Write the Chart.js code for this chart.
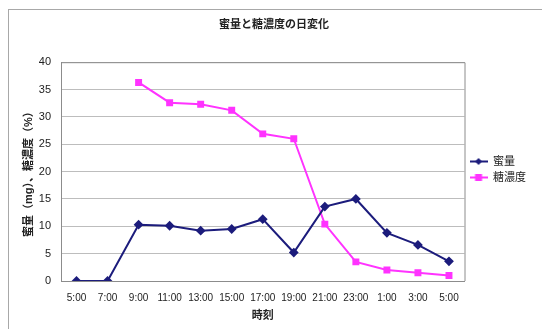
<!DOCTYPE html>
<html lang="ja">
<head>
    <meta charset="UTF-8">
    <title>蜜量と糖濃度の日変化</title>
    <script src="https://cdn.jsdelivr.net/npm/chart.js@4.4.1/dist/chart.umd.min.js"></script>
    <style>
        body {
            margin: 0;
            background: #ffffff;
        }
        .frame {
            position: absolute;
            left: 8px;
            top: 9px;
            width: 560px;
            height: 340px;
            border: 1px solid #a8a8a8;
        }
        .wrap {
            position: absolute;
            left: 0;
            top: 0;
            width: 542px;
            height: 329px;
        }
    </style>
</head>
<body>
    <div class="frame"></div>
    <div class="wrap"><canvas id="chart" width="542" height="329"></canvas></div>

    <script>
        const times = ['5:00', '7:00', '9:00', '11:00', '13:00', '15:00', '17:00', '19:00', '21:00', '23:00', '1:00', '3:00', '5:00'];
        const nectar = [0, 0, 10.3, 10.1, 9.2, 9.5, 11.3, 5.2, 13.6, 15.0, 8.8, 6.6, 3.6];
        const sugar = [null, null, 36.3, 32.6, 32.3, 31.2, 26.9, 26.0, 10.4, 3.5, 2.0, 1.5, 1.0];
        const yTicks = [0, 5, 10, 15, 20, 25, 30, 35, 40];

        const FONT = '"Liberation Sans", "Noto Sans CJK JP", sans-serif';
        const BLUE = '#1c1c7c';
        const PINK = '#ff33ff';

        // small line + marker picture for the legend
        function legendIcon(color, shape) {
            const c = document.createElement('canvas');
            c.width = 18;
            c.height = 9;
            const g = c.getContext('2d');
            g.strokeStyle = color;
            g.lineWidth = 2;
            g.beginPath();
            g.moveTo(0, 4.5);
            g.lineTo(18, 4.5);
            g.stroke();
            g.fillStyle = color;
            if (shape === 'diamond') {
                g.beginPath();
                g.moveTo(9, 1);
                g.lineTo(12.5, 4.5);
                g.lineTo(9, 8);
                g.lineTo(5.5, 4.5);
                g.closePath();
                g.fill();
            } else {
                g.fillRect(5.5, 1, 7, 7);
            }
            return c;
        }

        const icons = [legendIcon(BLUE, 'diamond'), legendIcon(PINK, 'square')];

        new Chart(document.getElementById('chart'), {
            type: 'line',
            data: {
                labels: times,
                datasets: [{
                    label: '蜜量',
                    data: nectar,
                    borderColor: BLUE,
                    backgroundColor: BLUE,
                    borderWidth: 2,
                    pointStyle: 'rectRot',
                    pointRadius: 3.5,
                    tension: 0
                }, {
                    label: '糖濃度',
                    data: sugar,
                    borderColor: PINK,
                    backgroundColor: PINK,
                    borderWidth: 2,
                    pointStyle: 'rect',
                    pointRadius: 3.5,
                    tension: 0
                }]
            },
            options: {
                responsive: false,
                animation: false,
                layout: {
                    padding: { left: 12, right: 6, top: 10, bottom: 0 }
                },
                plugins: {
                    title: {
                        display: true,
                        text: '蜜量と糖濃度の日変化',
                        color: '#222',
                        font: { family: FONT, size: 11, weight: 'bold' },
                        padding: { top: 8, bottom: 31 }
                    },
                    legend: {
                        position: 'right',
                        labels: {
                            color: '#222',
                            font: { family: FONT, size: 11 },
                            usePointStyle: true,
                            pointStyleWidth: 18,
                            padding: 5,
                            generateLabels: function(chart) {
                                return chart.data.datasets.map((ds, i) => ({
                                    text: ds.label,
                                    pointStyle: icons[i],
                                    fillStyle: ds.borderColor,
                                    strokeStyle: ds.borderColor,
                                    fontColor: '#222',
                                    lineWidth: 0,
                                    datasetIndex: i
                                }));
                            }
                        }
                    },
                    tooltip: { enabled: false }
                },
                scales: {
                    x: {
                        offset: true,
                        grid: { display: false, drawTicks: false },
                        border: { color: '#8c8c8c' },
                        ticks: {
                            color: '#222',
                            font: { family: FONT, size: 10 },
                            padding: 11,
                            maxRotation: 0,
                            autoSkip: false
                        },
                        title: {
                            display: true,
                            text: '時刻',
                            color: '#222',
                            font: { family: FONT, size: 11, weight: 'bold' },
                            padding: { top: 0, bottom: 6 }
                        },
                        afterFit: function(scale) { scale.height = 48; }
                    },
                    y: {
                        min: 0,
                        max: 40,
                        afterBuildTicks: function(scale) {
                            scale.ticks = yTicks.map(v => ({ value: v }));
                        },
                        grid: { color: '#bdbdbd', drawTicks: false },
                        border: { color: '#8c8c8c' },
                        ticks: {
                            color: '#222',
                            font: { family: FONT, size: 11 },
                            padding: 10
                        },
                        title: {
                            display: true,
                            text: '蜜量（mg）、糖濃度（%）',
                            color: '#222',
                            font: { family: FONT, size: 11, weight: 'bold' },
                            padding: { top: 10, bottom: 0 }
                        },
                        afterFit: function(scale) { scale.width = 49; }
                    }
                }
            },
            plugins: [{
                // top and right edges of the plot frame
                id: 'plotFrame',
                afterDraw: function(chart) {
                    const a = chart.chartArea;
                    const g = chart.ctx;
                    g.save();
                    g.strokeStyle = '#8c8c8c';
                    g.lineWidth = 1;
                    g.beginPath();
                    g.moveTo(a.left, a.top + 0.5);
                    g.lineTo(a.right + 0.5, a.top + 0.5);
                    g.lineTo(a.right + 0.5, a.bottom);
                    g.stroke();
                    g.restore();
                }
            }]
        });
    </script>
</body>
</html>
